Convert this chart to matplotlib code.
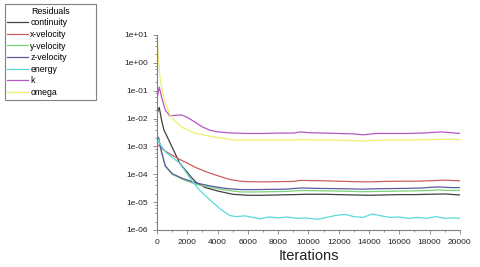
"""Residuals convergence plot."""
import matplotlib
matplotlib.use("Agg")
import matplotlib.pyplot as plt
from matplotlib.ticker import MultipleLocator, LogLocator, NullFormatter

plt.rcParams["font.family"] = ["Liberation Sans", "DejaVu Sans"]

# iterations / residual values
cont_it = [0, 150, 300, 450, 850, 1500, 2200, 2600, 3200, 4000, 5000, 6000, 7000, 8000, 9000,
           10000, 11000, 12000, 13000, 14000, 15000, 16000, 17000, 18000, 19000, 20000]
cont_val = [1.5e-2, 2.5e-2, 9e-3, 4e-3, 1.4e-3, 2.5e-4, 8.5e-5, 5e-5, 3.3e-5, 2.5e-5, 1.9e-5, 1.75e-5,
            1.75e-5, 1.8e-5, 1.85e-5, 1.9e-5, 1.9e-5, 1.85e-5, 1.8e-5, 1.75e-5, 1.8e-5, 1.85e-5,
            1.85e-5, 1.9e-5, 1.95e-5, 1.8e-5]

xvel_it = [0, 100, 500, 1000, 1500, 2000, 2600, 3200, 3800, 4800, 5500, 6000, 7000, 8000, 9000, 9500,
           10000, 11000, 12000, 13000, 14000, 15000, 16000, 17000, 18000, 19000, 20000]
xvel_val = [1e-3, 1.1e-3, 7e-4, 4.8e-4, 3.4e-4, 2.5e-4, 1.7e-4, 1.25e-4, 9.6e-5, 6.5e-5, 5.6e-5, 5.4e-5,
            5.3e-5, 5.4e-5, 5.5e-5, 6e-5, 5.9e-5, 5.8e-5, 5.6e-5, 5.4e-5, 5.3e-5, 5.5e-5, 5.6e-5,
            5.6e-5, 5.8e-5, 6.1e-5, 5.8e-5]

yvel_it = [0, 100, 300, 550, 1000, 1700, 2600, 3500, 4500, 5500, 6500, 7500, 8500, 9500, 10500,
           11500, 12500, 13500, 14500, 15500, 16500, 17500, 18500, 19500, 20000]
yvel_val = [1e-3, 2e-3, 6e-4, 1.9e-4, 1e-4, 6.5e-5, 4.3e-5, 3.4e-5, 2.7e-5, 2.3e-5, 2.3e-5, 2.35e-5,
            2.4e-5, 2.6e-5, 2.55e-5, 2.5e-5, 2.45e-5, 2.35e-5, 2.4e-5, 2.45e-5, 2.5e-5, 2.55e-5,
            2.7e-5, 2.6e-5, 2.6e-5]

zvel_it = [0, 100, 300, 550, 1000, 1700, 2600, 3500, 4500, 5500, 6500, 7500, 8500, 9500, 10500,
           11500, 12500, 13500, 14500, 15500, 16500, 17500, 18500, 19500, 20000]
zvel_val = [1.1e-3, 2.1e-3, 6.5e-4, 2e-4, 1.05e-4, 7e-5, 4.8e-5, 3.8e-5, 3.1e-5, 2.8e-5, 2.8e-5,
            2.85e-5, 2.9e-5, 3.2e-5, 3.1e-5, 3.05e-5, 3e-5, 2.9e-5, 3e-5, 3.05e-5, 3.1e-5, 3.2e-5,
            3.5e-5, 3.3e-5, 3.3e-5]

energy_it = [0, 100, 200, 600, 1000, 1500, 2200, 2800, 3500, 4200, 4800, 5200, 5800, 6200, 6800,
             7400, 8000, 8600, 9200, 9800, 10600, 11200, 11800, 12400, 13000, 13600, 14200, 14800,
             15400, 16000, 16600, 17200, 17800, 18400, 19000, 19600, 20000]
energy_val = [1e-3, 1.8e-3, 1.2e-3, 6e-4, 4e-4, 2.5e-4, 7e-5, 2.7e-5, 1.2e-5, 5.5e-6, 3.3e-6, 3e-6,
              3.2e-6, 2.9e-6, 2.5e-6, 2.9e-6, 2.7e-6, 2.9e-6, 2.6e-6, 2.7e-6, 2.4e-6, 2.8e-6, 3.3e-6,
              3.6e-6, 3e-6, 2.8e-6, 3.7e-6, 3.2e-6, 2.8e-6, 2.9e-6, 2.6e-6, 2.8e-6, 2.6e-6, 3e-6,
              2.6e-6, 2.7e-6, 2.6e-6]

k_it = [0, 150, 300, 550, 850, 1200, 1600, 2000, 2500, 3000, 3500, 4000, 5000, 6000, 7000, 8000,
        9000, 9500, 10000, 11000, 12000, 13000, 13600, 14500, 15500, 16500, 17500, 18800, 20000]
k_val = [0.05, 0.135, 0.06, 0.02, 0.0125, 0.013, 0.0135, 0.011, 0.0075, 0.005, 0.0038, 0.0033, 0.003,
         0.0029, 0.0029, 0.003, 0.003, 0.0033, 0.0031, 0.003, 0.0029, 0.0028, 0.0026, 0.0029, 0.0029,
         0.0029, 0.003, 0.0033, 0.0029]

omega_it = [0, 80, 200, 400, 550, 850, 1200, 1700, 2500, 3500, 4500, 5000, 6000, 7000, 8000, 9000,
            9500, 10500, 11500, 12500, 13600, 14500, 15500, 16500, 17500, 19000, 20000]
omega_val = [10, 2, 0.3, 0.07, 0.036, 0.014, 0.008, 0.0047, 0.003, 0.0023, 0.0019, 0.0017, 0.0017,
             0.0017, 0.0017, 0.0017, 0.00175, 0.0017, 0.00168, 0.00165, 0.00155, 0.00165, 0.0017,
             0.0017, 0.00172, 0.0018, 0.00175]

y_ticks = [1e-6, 1e-5, 1e-4, 1e-3, 1e-2, 1e-1, 1e0, 1e1]
y_ticklabels = ["1e-06", "1e-05", "1e-04", "1e-03", "1e-02", "1e-01", "1e+00", "1e+01"]

series = [
    ("continuity", cont_it, cont_val, "#404040"),
    ("x-velocity", xvel_it, xvel_val, "#c86060"),
    ("y-velocity", yvel_it, yvel_val, "#78d478"),
    ("z-velocity", zvel_it, zvel_val, "#5a5aa0"),
    ("energy", energy_it, energy_val, "#5cdada"),
    ("k", k_it, k_val, "#b855c8"),
    ("omega", omega_it, omega_val, "#eeee70"),
]

fig = plt.figure(figsize=(4.8, 2.67), dpi=100)
ax = fig.add_axes([0.327, 0.139, 0.631, 0.73])

for name, it, val, col in series:
    ax.plot(it, val, color=col, lw=0.9, label=name)

ax.set_yscale("log")
ax.set_ylim(1e-6, 1e1)
ax.set_xlim(0, 20000)
ax.xaxis.set_major_locator(MultipleLocator(2000))
ax.xaxis.set_minor_locator(MultipleLocator(1000))
ax.set_yticks(y_ticks)
ax.set_yticklabels(y_ticklabels)
ax.yaxis.set_minor_locator(LogLocator(base=10, subs=(2, 4, 6, 8), numticks=10))
ax.yaxis.set_minor_formatter(NullFormatter())

for s in ("top", "right"):
    ax.spines[s].set_visible(False)
for s in ("left", "bottom"):
    ax.spines[s].set_color("#808080")
    ax.spines[s].set_linewidth(0.8)
ax.tick_params(which="both", colors="#808080", labelcolor="#222222", labelsize=6, width=0.6)
ax.tick_params(which="major", length=3)
ax.tick_params(which="minor", length=1.5)
ax.set_xlabel("Iterations", fontsize=10.5, color="#222222", labelpad=2)

leg = fig.legend(loc="upper left", bbox_to_anchor=(0.01, 0.64, 0.19, 0.345), mode="expand",
                 title="Residuals", fontsize=6.3, title_fontsize=6.3, handlelength=2.3,
                 handletextpad=0.3, labelspacing=0.3, borderpad=0.3, borderaxespad=0,
                 fancybox=False, frameon=True)
leg.get_frame().set_edgecolor("#606060")
leg.get_frame().set_linewidth(0.8)

fig.savefig("out.png", dpi=100)
